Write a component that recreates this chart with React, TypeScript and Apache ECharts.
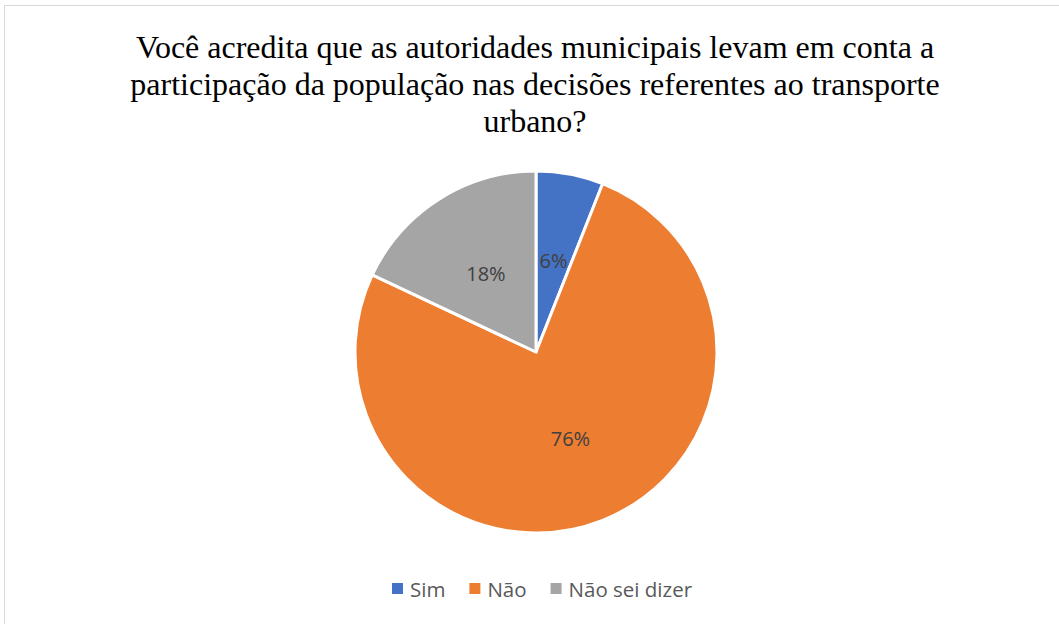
import React, { useEffect, useRef } from "react";
import * as echarts from "echarts";

const categories = ["Sim", "Não", "Não sei dizer"];
const values = [6, 76, 18];
const colors = ["#4472C4", "#ED7D31", "#A5A5A5"];
const titleLines = [
  "Você acredita que as autoridades municipais levam em conta a",
  "participação da população nas decisões referentes ao transporte",
  "urbano?",
];

export default function App() {
  const ref = useRef<HTMLDivElement>(null);
  useEffect(() => {
    if (!ref.current) return;
    const chart = echarts.init(ref.current, undefined, { renderer: "svg" });
    chart.setOption({
      animation: false,
      backgroundColor: "#ffffff",
      title: {
        text: titleLines.join("\n"),
        left: 530,
        textAlign: "center",
        top: 23,
        textStyle: {
          fontFamily: "Liberation Serif",
          fontSize: 32,
          fontWeight: "normal",
          color: "#000000",
          lineHeight: 37,
        },
      },
      graphic: [
        {
          type: "rect",
          shape: { x: 4.5, y: 5.5, width: 1100, height: 700 },
          style: { fill: "none", stroke: "#d9d9d9", lineWidth: 1 },
          silent: true,
        },
      ],
      legend: {
        bottom: 20,
        left: 385,
        itemWidth: 13,
        itemHeight: 13,
        itemGap: 22,
        icon: "rect",
        textStyle: {
          fontFamily: "Open Sans",
          fontSize: 20.5,
          color: "#595959",
          padding: [0, 0, 0, 1],
        },
        data: categories,
      },
      series: [
        {
          type: "pie",
          center: [536, 352],
          radius: [0, 181],
          startAngle: 90,
          clockwise: true,
          itemStyle: { borderColor: "#ffffff", borderWidth: 3 },
          label: {
            show: true,
            position: "inside",
            formatter: "{c}%",
            fontFamily: "Open Sans",
            fontSize: 20,
            color: "#404040",
          },
          labelLine: { show: false },
          data: categories.map((name, i) => ({
            name,
            value: values[i],
            itemStyle: { color: colors[i] },
          })),
        },
      ],
    });
    return () => chart.dispose();
  }, []);
  return (
    <div
      ref={ref}
      style={{ position: "fixed", left: 0, top: 0, width: 1059, height: 624 }}
    />
  );
}
